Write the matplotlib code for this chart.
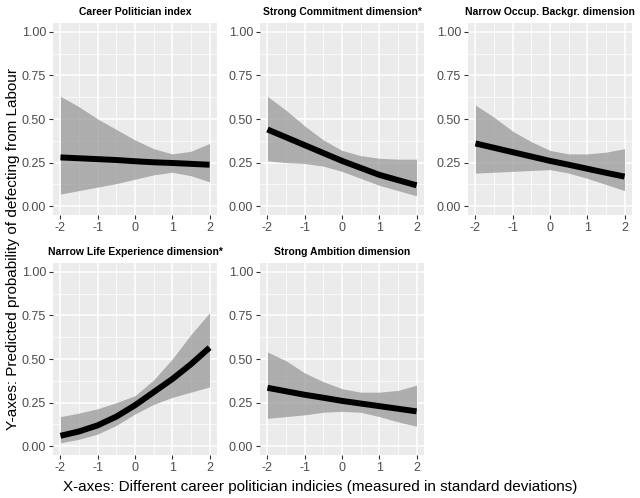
import numpy as np
import matplotlib
matplotlib.use('Agg')
from matplotlib import pyplot as plt

plt.rcParams['font.family'] = ['Liberation Sans', 'DejaVu Sans']
plt.rcParams['axes.unicode_minus'] = False

x = [-2, -1.5, -1, -0.5, 0, 0.5, 1, 1.5, 2]

titles = ['Career Politician index', 'Strong Commitment dimension*',
          'Narrow Occup. Backgr. dimension', 'Narrow Life Experience dimension*',
          'Strong Ambition dimension']

fit_career = [0.28, 0.275, 0.27, 0.265, 0.258, 0.252, 0.248, 0.243, 0.238]
lo_career = [0.07, 0.09, 0.11, 0.13, 0.155, 0.18, 0.195, 0.175, 0.14]
hi_career = [0.63, 0.57, 0.50, 0.44, 0.38, 0.33, 0.30, 0.315, 0.36]

fit_commit = [0.44, 0.395, 0.35, 0.305, 0.26, 0.22, 0.18, 0.15, 0.12]
lo_commit = [0.26, 0.25, 0.245, 0.23, 0.20, 0.16, 0.12, 0.09, 0.06]
hi_commit = [0.63, 0.55, 0.46, 0.38, 0.32, 0.29, 0.275, 0.27, 0.27]

fit_occup = [0.36, 0.335, 0.31, 0.285, 0.26, 0.238, 0.215, 0.192, 0.17]
lo_occup = [0.19, 0.195, 0.20, 0.205, 0.21, 0.19, 0.16, 0.125, 0.09]
hi_occup = [0.58, 0.51, 0.43, 0.37, 0.32, 0.30, 0.30, 0.31, 0.33]

fit_life = [0.06, 0.085, 0.12, 0.17, 0.235, 0.31, 0.385, 0.47, 0.565]
lo_life = [0.02, 0.04, 0.07, 0.12, 0.185, 0.24, 0.28, 0.31, 0.34]
hi_life = [0.17, 0.19, 0.215, 0.25, 0.29, 0.38, 0.50, 0.64, 0.765]

fit_ambit = [0.335, 0.315, 0.295, 0.278, 0.26, 0.245, 0.23, 0.215, 0.20]
lo_ambit = [0.16, 0.17, 0.18, 0.195, 0.20, 0.195, 0.17, 0.14, 0.115]
hi_ambit = [0.54, 0.49, 0.42, 0.37, 0.33, 0.31, 0.31, 0.32, 0.35]

fits = [fit_career, fit_commit, fit_occup, fit_life, fit_ambit]
los = [lo_career, lo_commit, lo_occup, lo_life, lo_ambit]
his = [hi_career, hi_commit, hi_occup, hi_life, hi_ambit]

W, H = 640, 498
fig = plt.figure(figsize=(W / 100, H / 100), dpi=100)

lefts = [53, 260, 468]
tops = [23, 263]
pw, ph = 164, 192

for i in range(5):
    r, c = divmod(i, 3)
    ax = fig.add_axes([lefts[c] / W, 1 - (tops[r] + ph) / H, pw / W, ph / H])
    ax.set_facecolor('#EBEBEB')
    for s in ax.spines.values():
        s.set_visible(False)
    ax.set_xlim(-2.2, 2.2)
    ax.set_ylim(-0.05, 1.05)
    ax.set_xticks([-2, -1, 0, 1, 2])
    ax.set_xticks([-1.5, -0.5, 0.5, 1.5], minor=True)
    ax.set_yticks([0, 0.25, 0.5, 0.75, 1.0])
    ax.set_yticks([0.125, 0.375, 0.625, 0.875], minor=True)
    ax.set_yticklabels(['0.00', '0.25', '0.50', '0.75', '1.00'])
    ax.grid(which='major', color='white', lw=1.1)
    ax.grid(which='minor', color='white', lw=0.5)
    ax.set_axisbelow(True)
    ax.tick_params(which='major', length=3, width=0.8, color='#333333',
                   labelsize=9, labelcolor='#4D4D4D', pad=2)
    ax.tick_params(which='minor', length=0)
    ax.fill_between(x, los[i], his[i], color='#999999', alpha=0.75, lw=0)
    ax.plot(x, fits[i], color='black', lw=4.3, solid_capstyle='butt')
    ax.set_title(titles[i], fontsize=7.5, fontweight='bold', pad=6)

fig.text(0.5, 4 / H, 'X-axes: Different career politician indicies (measured in standard deviations)',
         ha='center', va='bottom', fontsize=11)
fig.text(6 / W, 0.5, 'Y-axes: Predicted probability of defecting from Labour',
         ha='left', va='center', rotation=90, fontsize=11)

fig.savefig('out.png', dpi=100)
